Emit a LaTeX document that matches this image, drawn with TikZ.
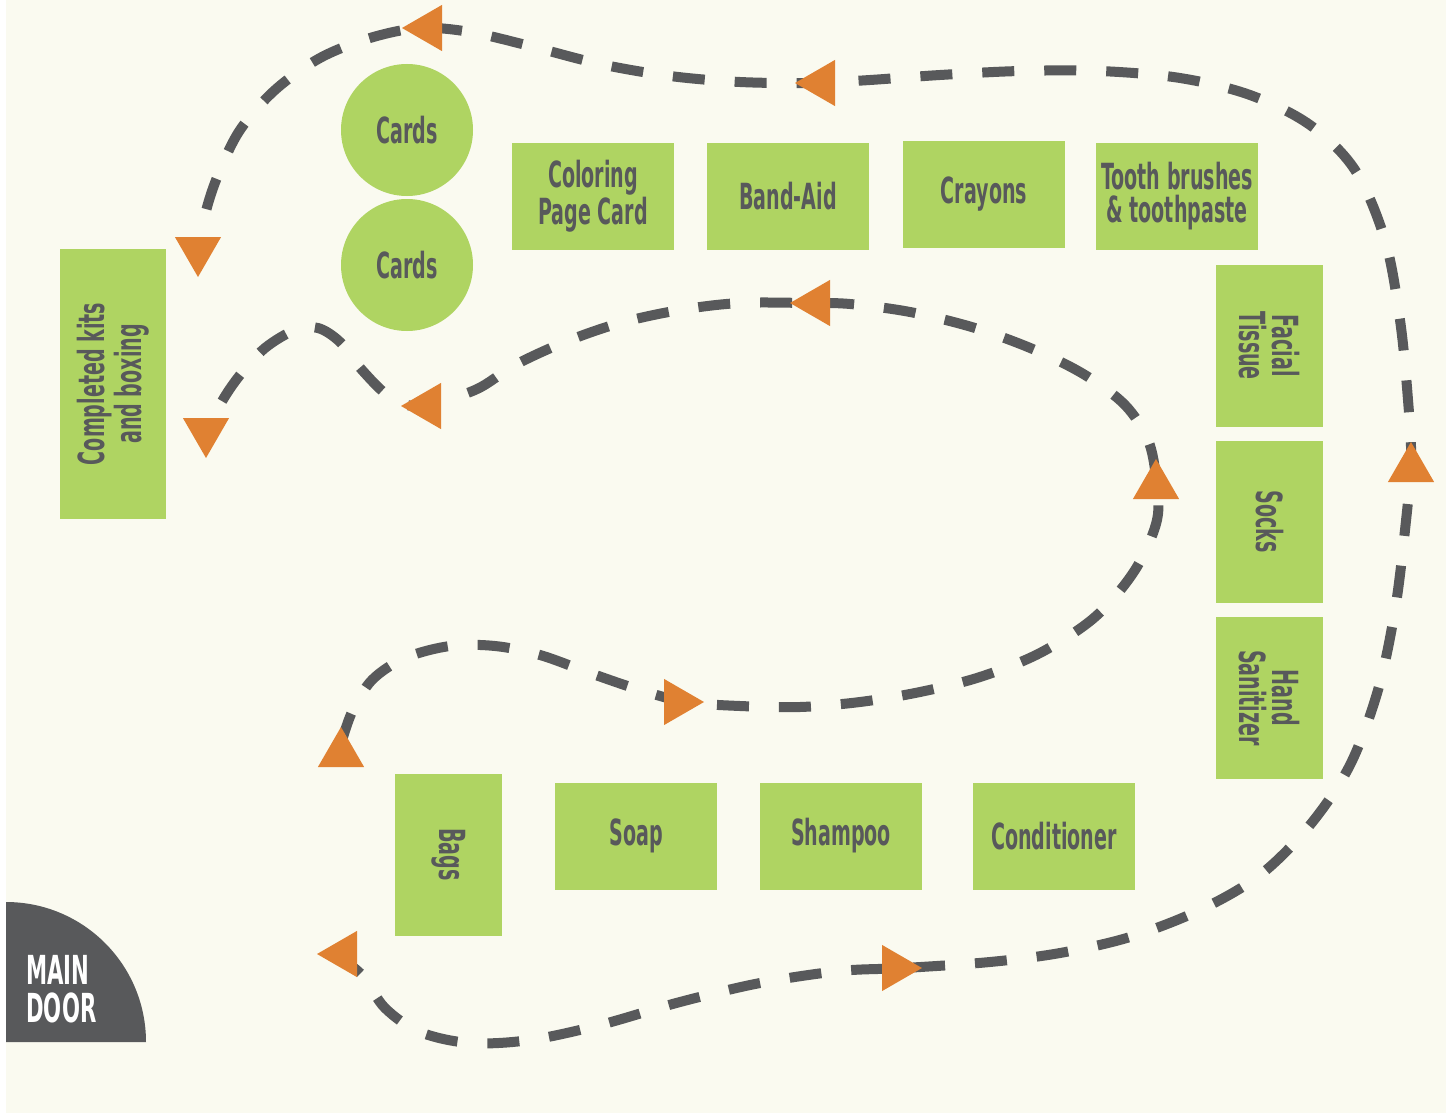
\documentclass[tikz,border=0pt]{standalone}
\usepackage{fontspec}
\setmainfont{DejaVu Sans}[FakeStretch=0.53]
\usetikzlibrary{shapes.geometric}

\definecolor{cream}{HTML}{FAFAF0}
\definecolor{leaf}{HTML}{AFD462}
\definecolor{slate}{HTML}{58595B}
\definecolor{pumpkin}{HTML}{E08132}

\tikzset{
  station/.style={fill=leaf, text=slate, font=\bfseries\fontsize{18}{16.5}\selectfont,
    align=center, minimum width=81pt, minimum height=53.5pt, inner sep=0pt},
  cardspot/.style={circle, fill=leaf, text=slate, font=\bfseries\fontsize{18}{16.5}\selectfont,
    minimum size=66pt, inner sep=0pt},
  route/.style={draw=slate, line width=5pt, dash pattern=on 16pt off 15pt},
  marker/.style={isosceles triangle, isosceles triangle apex angle=60, fill=pumpkin,
    minimum height=20pt, inner sep=0pt, outer sep=0pt, draw=none, anchor=apex}
}

\begin{document}
\begin{tikzpicture}[x=0.5pt,y=-0.5pt]
  \useasboundingbox (0,0) rectangle (1451,1113);
  \fill[white] (0,0) rectangle (1451,1113);
  \fill[cream] (6,0) rectangle (1446,1113);

  % main door
  \fill[slate] (6,1042) -- (6,902) arc[start angle=90, end angle=0, radius=70pt] -- cycle;
  \node[anchor=west, align=left, text=white, inner sep=0pt,
    font=\bfseries\fontsize{20}{19}\selectfont] (door) at (26,989) {MAIN\\DOOR};

  % stations
  \node[station, rotate=90, minimum width=135pt, minimum height=53pt] (kits) at (113,384) {Completed kits\\and boxing};
  \node[cardspot] (cards1) at (407,130) {Cards};
  \node[cardspot] (cards2) at (407,265) {Cards};
  \node[station] (coloring) at (593,196.5) {Coloring\\Page Card};
  \node[station] (bandaid) at (788,196.5) {Band-Aid};
  \node[station] (crayons) at (984,194.5) {Crayons};
  \node[station] (tooth) at (1177,196.5) {Tooth brushes\\\& toothpaste};
  \node[station, rotate=-90] (tissue) at (1269.5,345.5) {Facial\\Tissue};
  \node[station, rotate=-90] (socks) at (1269.5,521.5) {Socks};
  \node[station, rotate=-90] (sanit) at (1269.5,698) {Hand\\Sanitizer};
  \node[station, rotate=-90] (bags) at (448.5,854.5) {Bags};
  \node[station] (soap) at (636,836) {Soap};
  \node[station] (shampoo) at (841,836) {Shampoo};
  \node[station] (cond) at (1054,836) {Conditioner};

  % route points under the tips
  \coordinate (ar1) at (420,28);
  \coordinate (ar2) at (813,83);
  \coordinate (ar3) at (198,258);
  \coordinate (ar4) at (206,440);
  \coordinate (ar5) at (420,406);
  \coordinate (ar6) at (808,303);
  \coordinate (ar7) at (1156,478);
  \coordinate (ar8) at (1411,460);
  \coordinate (ar9) at (686,702);
  \coordinate (ar10) at (341,744);
  \coordinate (ar11) at (335,954);
  \coordinate (ar12) at (904,968);

  % outer route
  \draw[route] plot[smooth, tension=0.55] coordinates {(ar11) (362,975) (385,1008) (420,1032)
    (470,1043) (530,1040) (600,1025) (680,1002) (760,983) (840,971) (ar12) (990,962)
    (1060,953) (1130,937) (1200,910) (1260,875) (1310,825) (1350,765) (1378,690)
    (1395,610) (1405,530) (ar8) (1408,400) (1400,320) (1385,240) (1355,170) (1310,125)
    (1250,95) (1180,78) (1100,71) (1020,71) (940,75) (870,80) (ar2) (740,82) (670,76)
    (600,64) (530,46) (470,32) (ar1) (370,38) (320,58) (275,90) (240,130) (218,175)
    (205,215) (ar3)};

  % inner route
  \draw[route] plot[smooth, tension=0.55] coordinates {(ar10) (352,712) (372,680) (405,658)
    (450,646) (495,646) (540,655) (590,673) (640,690) (ar9) (740,706) (800,707) (860,702)
    (920,692) (980,677) (1040,653) (1095,617) (1135,570) (1157,520) (ar7) (1148,440)
    (1125,405) (1085,375) (1035,350) (975,328) (910,312) (850,304) (ar6) (740,303)
    (680,310) (620,323) (565,342) (515,365) (475,390) (ar5) (390,397) (362,370) (340,342)
    (318,328) (295,330) (265,348) (240,375) (220,405) (ar4)};

  % orange tips
  \node[marker, rotate=180] (tip1) at (402,28) {};
  \node[marker, rotate=180] (tip2) at (795,83) {};
  \node[marker, rotate=-90] (tip3) at (198,277) {};
  \node[marker, rotate=-90] (tip4) at (206,458) {};
  \node[marker, rotate=180] (tip5) at (401,406) {};
  \node[marker, rotate=180] (tip6) at (790,303) {};
  \node[marker, rotate=90] (tip7) at (1156,459) {};
  \node[marker, rotate=90] (tip8) at (1411,442) {};
  \node[marker] (tip9) at (704,702) {};
  \node[marker, rotate=90] (tip10) at (341,727) {};
  \node[marker, rotate=180] (tip11) at (317,954) {};
  \node[marker] (tip12) at (922,968) {};
\end{tikzpicture}
\end{document}
